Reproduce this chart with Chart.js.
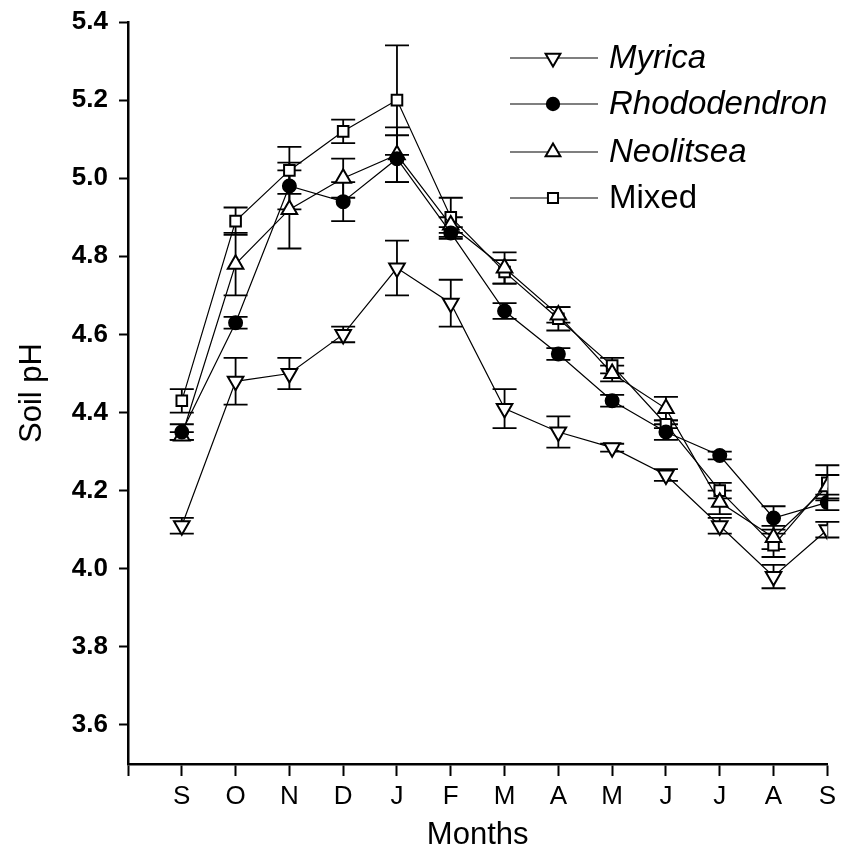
<!DOCTYPE html>
<html>
<head>
<meta charset="utf-8">
<script src="https://cdn.jsdelivr.net/npm/chart.js@4.4.1/dist/chart.umd.min.js"></script>
<style>
  html, body { margin: 0; padding: 0; background: #fff; }
  #wrap { width: 841px; height: 854px; }
</style>
</head>
<body>
<div id="wrap"><canvas id="phChart" width="841" height="854"></canvas></div>
<script>
// months, September to September
const months = ['S', 'O', 'N', 'D', 'J', 'F', 'M', 'A', 'M', 'J', 'J', 'A', 'S'];

// soil pH, mean per month
const myrica        = [4.11, 4.48, 4.50, 4.60, 4.77, 4.68, 4.41, 4.35, 4.31, 4.24, 4.11, 3.98, 4.10];
const rhododendron  = [4.35, 4.63, 4.98, 4.94, 5.05, 4.86, 4.66, 4.55, 4.43, 4.35, 4.29, 4.13, 4.17];
const neolitsea     = [4.34, 4.78, 4.92, 5.00, 5.06, 4.88, 4.77, 4.65, 4.50, 4.41, 4.17, 4.08, 4.21];
const mixed         = [4.43, 4.89, 5.02, 5.12, 5.20, 4.90, 4.76, 4.64, 4.52, 4.37, 4.20, 4.06, 4.22];

// standard errors
const myricaErr       = [0.02, 0.06, 0.04, 0.02, 0.07, 0.06, 0.05, 0.04, 0.01, 0.015, 0.02, 0.03, 0.02];
const rhododendronErr = [0.02, 0.015, 0.06, 0.05, 0.06, 0.015, 0.02, 0.015, 0.015, 0.02, 0.01, 0.03, 0.02];
const neolitseaErr    = [0.01, 0.08, 0.10, 0.05, 0.07, 0.02, 0.04, 0.02, 0.02, 0.03, 0.03, 0.03, 0.03];
const mixedErr        = [0.03, 0.035, 0.06, 0.03, 0.14, 0.05, 0.03, 0.03, 0.02, 0.01, 0.02, 0.03, 0.045];

const yTicks = [3.6, 3.8, 4.0, 4.2, 4.4, 4.6, 4.8, 5.0, 5.2, 5.4];

const FONT = '"Liberation Sans", Arial, Helvetica, sans-serif';

function toPoints(values) {
  return values.map((v, i) => ({ x: i, y: v }));
}

function makeSet(label, values, errors, style, rotation, radius, fill, italic) {
  return {
    label: label,
    data: toPoints(values),
    errors: errors,
    italic: italic,
    borderColor: '#000',
    borderWidth: 1.2,
    tension: 0,
    fill: false,
    pointStyle: style,
    pointRotation: rotation,
    pointRadius: radius,
    pointHoverRadius: radius,
    pointBorderWidth: 2,
    pointBorderColor: '#000',
    pointBackgroundColor: fill
  };
}

const datasets = [
  makeSet('Myrica', myrica, myricaErr, 'triangle', 180, 9, '#fff', true),
  makeSet('Rhododendron', rhododendron, rhododendronErr, 'circle', 0, 6.5, '#000', true),
  makeSet('Neolitsea', neolitsea, neolitseaErr, 'triangle', 0, 9, '#fff', true),
  makeSet('Mixed', mixed, mixedErr, 'rect', 0, 7.5, '#fff', false)
];

// vertical error bars with caps, drawn under the markers
const errorBars = {
  id: 'errorBars',
  beforeDatasetsDraw(chart) {
    const ctx = chart.ctx;
    const xs = chart.scales.x, ys = chart.scales.y;
    ctx.save();
    ctx.strokeStyle = '#000';
    ctx.lineWidth = 1.8;
    chart.data.datasets.forEach(ds => {
      ds.data.forEach((p, i) => {
        const e = ds.errors[i];
        const px = xs.getPixelForValue(p.x);
        const top = ys.getPixelForValue(p.y + e);
        const bot = ys.getPixelForValue(p.y - e);
        ctx.beginPath();
        ctx.moveTo(px, top); ctx.lineTo(px, bot);
        ctx.moveTo(px - 12, top); ctx.lineTo(px + 12, top);
        ctx.moveTo(px - 12, bot); ctx.lineTo(px + 12, bot);
        ctx.stroke();
      });
    });
    ctx.restore();
  }
};

// legend in the upper right of the plot
const insideLegend = {
  id: 'insideLegend',
  afterDraw(chart) {
    const ctx = chart.ctx;
    const x0 = 510, x1 = 598, xm = 553, xt = 609;
    const rows = [58, 104, 152, 198];
    ctx.save();
    chart.data.datasets.forEach((ds, i) => {
      const y = rows[i];
      ctx.strokeStyle = '#000';
      ctx.lineWidth = 1.2;
      ctx.beginPath();
      ctx.moveTo(x0, y); ctx.lineTo(x1, y);
      ctx.stroke();
      ctx.fillStyle = ds.pointBackgroundColor;
      ctx.strokeStyle = '#000';
      ctx.lineWidth = 2;
      Chart.helpers.drawPoint(ctx, {
        pointStyle: ds.pointStyle,
        rotation: ds.pointRotation,
        radius: ds.pointRadius * 0.95,
        borderWidth: 2
      }, xm, y);
      ctx.fillStyle = '#000';
      ctx.font = (ds.italic ? 'italic ' : '') + '33px ' + FONT;
      ctx.textBaseline = 'middle';
      ctx.fillText(ds.label, xt, y + 1);
    });
    ctx.restore();
  }
};

new Chart(document.getElementById('phChart'), {
  type: 'line',
  data: { datasets: datasets },
  plugins: [errorBars, insideLegend],
  options: {
    responsive: false,
    animation: false,
    layout: { padding: { top: 22, right: 11, left: 0, bottom: 0 } },
    plugins: { legend: { display: false }, tooltip: { enabled: false } },
    scales: {
      x: {
        type: 'linear',
        min: -1,
        max: 12,
        afterFit(scale) { scale.height = 90; },
        ticks: {
          stepSize: 1,
          color: '#000',
          padding: 5,
          font: { family: FONT, size: 26 },
          maxRotation: 0,
          autoSkip: false,
          callback: v => (v >= 0 && v < months.length) ? months[v] : ''
        },
        grid: { drawOnChartArea: false, tickLength: 12, color: '#000', tickWidth: 2 },
        border: { color: '#000', width: 2.5 },
        title: {
          display: true,
          text: 'Months',
          color: '#000',
          font: { family: FONT, size: 31 },
          padding: { top: 4, bottom: 0 }
        }
      },
      y: {
        min: 3.5,
        max: 5.4,
        afterFit(scale) {
          scale.width = 128;
          scale.paddingTop = 0;
          scale.paddingBottom = 0;
        },
        afterBuildTicks(scale) {
          scale.ticks = yTicks.map(v => ({ value: v }));
        },
        ticks: {
          color: '#000',
          padding: 11,
          font: { family: FONT, size: 26, weight: 'bold' },
          callback: v => Number(v).toFixed(1)
        },
        grid: { drawOnChartArea: false, tickLength: 9, color: '#000', tickWidth: 2 },
        border: { color: '#000', width: 2.5 },
        title: {
          display: true,
          text: 'Soil pH',
          color: '#000',
          font: { family: FONT, size: 31 },
          padding: { top: 14, bottom: 0 }
        }
      }
    }
  }
});
</script>
</body>
</html>
